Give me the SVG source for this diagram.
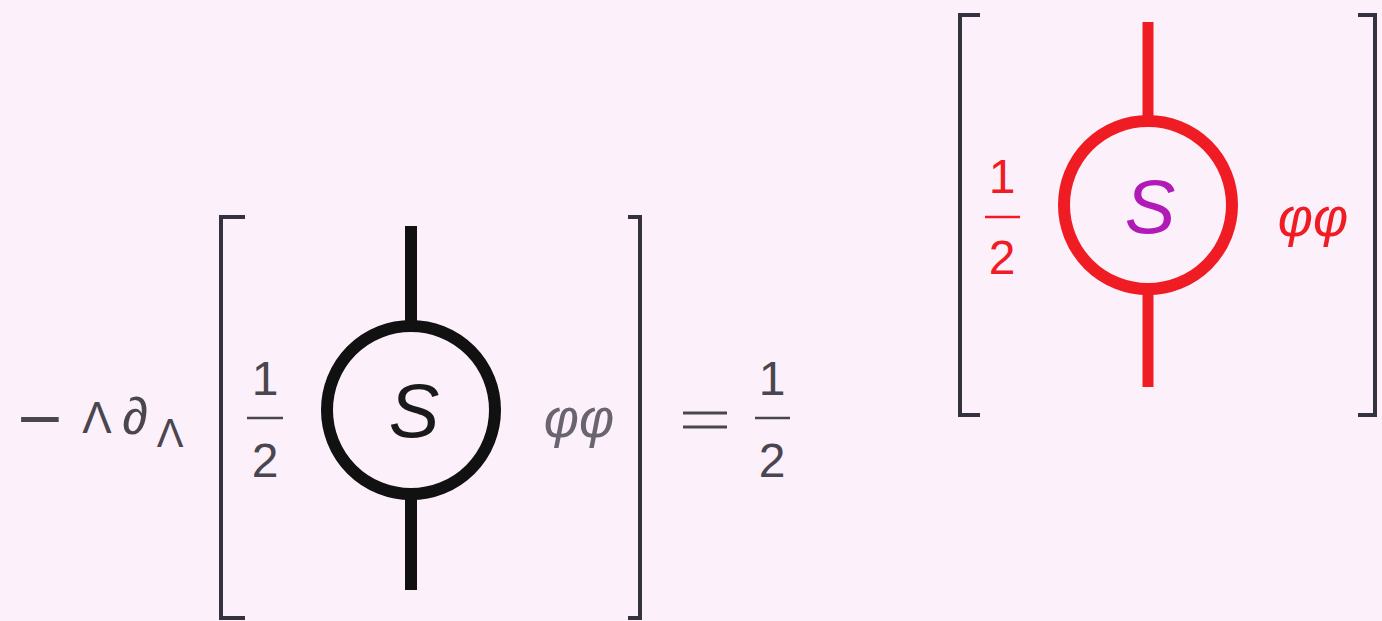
<svg xmlns="http://www.w3.org/2000/svg" width="1382" height="621" viewBox="0 0 1382 621">
<style>
.bk{fill:none;stroke:#34323f;stroke-width:4}
.t{font-family:"Liberation Sans",Arial,sans-serif;fill:#4a4650}
.it{font-style:italic}
.red{fill:#f01c24}
.sb{fill:#1a1a1a}
.sm{fill:#b21ab8}
.ph{fill:#6a6470}
</style>
<rect x="0" y="0" width="1382" height="621" fill="#fcf0fb"/>
<g id="connectors">
<line x1="411" y1="226" x2="411" y2="326" stroke="#111" stroke-width="12"/>
<line x1="411" y1="494" x2="411" y2="590" stroke="#111" stroke-width="12"/>
<line x1="1148" y1="22" x2="1148" y2="120" stroke="#f01c24" stroke-width="11"/>
<line x1="1148" y1="290" x2="1148" y2="387" stroke="#f01c24" stroke-width="11"/>
</g>
<g id="prefix">
<text class="t" x="40" y="438" font-size="60" text-anchor="middle" style="font-family:'DejaVu Sans',sans-serif">−</text>
<text class="t" x="97" y="433" font-size="44" text-anchor="middle">Λ</text>
<text class="t it" x="135" y="434" font-size="52" text-anchor="middle">∂</text>
<text class="t" x="170" y="447" font-size="40" text-anchor="middle">Λ</text>
</g>
<g id="bracket-left">
<path class="bk" d="M245,217 H221 V618 H245"/>
<path class="bk" d="M628,217 H640 V618 H628"/>
</g>
<g id="frac-left">
<text class="t" x="265" y="395" font-size="48" text-anchor="middle">1</text>
<line x1="247" y1="418" x2="283" y2="418" stroke="#4a4650" stroke-width="2.5"/>
<text class="t" x="265" y="477" font-size="48" text-anchor="middle">2</text>
</g>
<g id="node-s-black">
<circle cx="411" cy="410" r="84" fill="none" stroke="#111" stroke-width="12"/>
<text class="t it sb" x="414" y="437" font-size="76" text-anchor="middle">S</text>
</g>
<g id="phi-left">
<text class="t it ph" x="579" y="437" font-size="54" text-anchor="middle">φφ</text>
</g>
<g id="equals">
<line x1="683" y1="413" x2="727" y2="413" stroke="#4a4650" stroke-width="3"/>
<line x1="683" y1="427" x2="727" y2="427" stroke="#4a4650" stroke-width="3"/>
<text class="t" x="772" y="395" font-size="48" text-anchor="middle">1</text>
<line x1="755" y1="418" x2="790" y2="418" stroke="#4a4650" stroke-width="2.5"/>
<text class="t" x="772" y="477" font-size="48" text-anchor="middle">2</text>
</g>
<g id="bracket-right">
<path class="bk" d="M980,15 H960 V415 H980"/>
<path class="bk" d="M1358,15 H1375 V415 H1358"/>
</g>
<g id="frac-right">
<text class="t red" x="1002" y="193" font-size="48" text-anchor="middle">1</text>
<line x1="985" y1="217" x2="1020" y2="217" stroke="#f01c24" stroke-width="2.5"/>
<text class="t red" x="1002" y="274" font-size="48" text-anchor="middle">2</text>
</g>
<g id="node-s-red">
<circle cx="1148" cy="205" r="84" fill="none" stroke="#f01c24" stroke-width="12"/>
<text class="t it sm" x="1150" y="233" font-size="76" text-anchor="middle">S</text>
</g>
<g id="phi-right">
<text class="t it red" x="1313" y="236" font-size="54" text-anchor="middle">φφ</text>
</g>
</svg>
